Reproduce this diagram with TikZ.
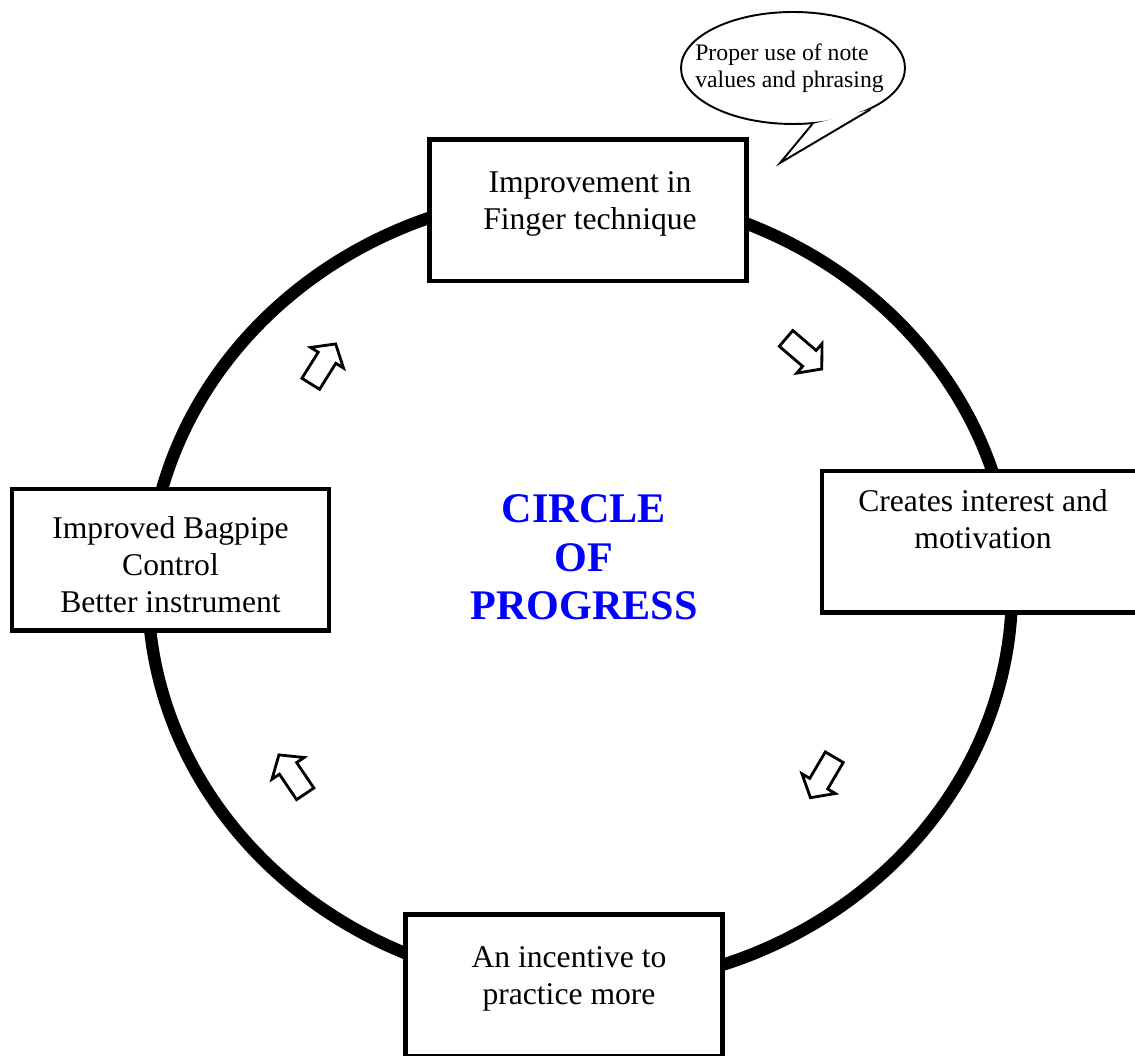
\documentclass[tikz,border=0pt]{standalone}
\usepackage{fontspec}
\setmainfont{Liberation Serif}
\usepackage{tikz}
\usetikzlibrary{shapes.geometric, shapes.arrows, positioning}
\definecolor{TitleBlue}{RGB}{0,0,255}

\begin{document}
\begin{tikzpicture}[
  stagebox/.style={draw, fill=white, line width=2.4pt, minimum width=6.34cm,
                   minimum height=2.83cm, inner sep=0pt},
  stagetext/.style={align=center, inner sep=0pt, font=\fontsize{18}{21}\selectfont},
  turnarrow/.style={single arrow, draw, fill=white, line width=1.6pt, inner sep=0.18cm,
                    single arrow head extend=0.18cm, single arrow tip angle=100,
                    minimum height=0.94cm}
]
  \useasboundingbox (0,0) rectangle (22.7,21.1);

  % the circle itself
  \draw[line width=7pt] (11.6,9.3) ellipse [x radius=8.64cm, y radius=7.94cm];

  % the four stages
  \node[stagebox] (finger) at (11.76,16.895) {};
  \node[stagetext, below=0.68cm of finger.north, xshift=0.04cm] (fingertxt)
    {Improvement in\\Finger technique};

  \node[stagebox] (interest) at (19.61,10.265) {};
  \node[stagetext, below=0.40cm of interest.north, xshift=0.05cm] (interesttxt)
    {Creates interest and\\motivation};

  \node[stagebox] (practice) at (11.28,1.395) {};
  \node[stagetext, below=0.68cm of practice.north, xshift=0.1cm] (practicetxt)
    {An incentive to\\practice more};

  \node[stagebox] (control) at (3.41,9.905) {};
  \node[stagetext, below=0.59cm of control.north] (controltxt)
    {Improved Bagpipe\\Control\\Better instrument};

  % hollow arrows round the circle
  \node[turnarrow, rotate=58, anchor=tail] (turnA) at (6.2,13.4) {};
  \node[turnarrow, rotate=-40.6, anchor=tail] (turnB) at (15.7,14.35) {};
  \node[turnarrow, rotate=-120.5, anchor=tail] (turnC) at (16.7,5.98) {};
  \node[turnarrow, rotate=124, anchor=tail] (turnD) at (6.12,5.2) {};

  \node[text=TitleBlue, align=center, font=\bfseries\fontsize{24}{27.6}\selectfont]
    (title) at (11.68,9.95) {CIRCLE\\OF\\PROGRESS};

  % speech bubble
  \node[ellipse, draw, fill=white, line width=1.1pt, minimum width=4.48cm,
        minimum height=2.24cm, inner sep=0pt] (remark) at (15.86,19.74) {};
  \coordinate (tip) at (15.6,17.84);
  \fill[white] (remark.-71) -- (tip) -- (remark.-28) -- cycle;
  \draw[line width=1.1pt] (remark.-71) -- (tip) -- (remark.-28);
  \node[align=left, inner sep=0pt, font=\fontsize{13.5}{15.5}\selectfont]
    (remarktxt) at (15.79,19.73) {Proper use of note\\values and phrasing};
\end{tikzpicture}
\end{document}
